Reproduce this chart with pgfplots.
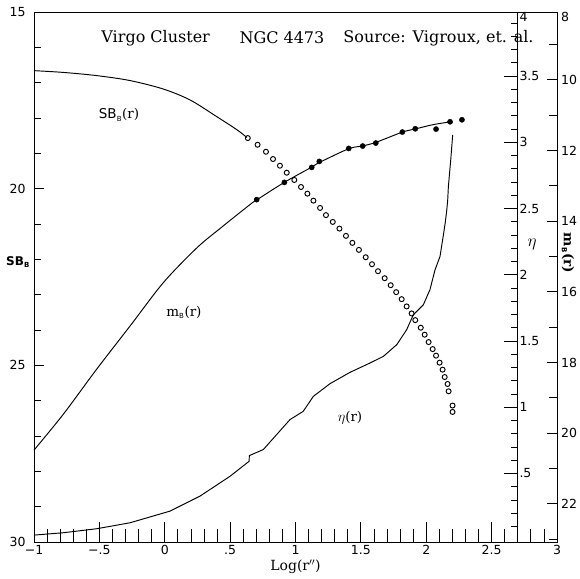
\documentclass[border=0pt]{standalone}
\usepackage{fontspec}
\setmainfont{DejaVu Serif}
\newfontfamily\ticksf{DejaVu Sans}
\usepackage{pgfplots}
\pgfplotsset{compat=1.18}

\pgfplotsset{
  panel/.style={
    at={(0,0)}, anchor=south west, scale only axis, height=530pt,
    clip=false,
    /pgf/number format/assume math mode=true,
    tick label style={font=\ticksf\fontsize{12.5}{12.5}\selectfont},
    axis line style={line width=0.9pt},
    every tick/.style={black, line width=0.8pt},
    tick align=inside,
  },
  curve/.style={black, line width=0.95pt},
}

\begin{document}
\begin{tikzpicture}[x=1pt,y=1pt]
\useasboundingbox (-34,-36) rectangle (546,542);

% surface brightness SB_B(r), log radius on the bottom axis
\begin{axis}[panel, width=523pt,
  xmin=-1, xmax=3, ymin=15, ymax=30, y dir=reverse,
  xtick={-1,-0.5,0,0.5,1,1.5,2,2.5,3},
  xticklabels={−1,−.5,0,.5,1,1.5,2,2.5,3},
  minor xtick={-0.9,-0.8,-0.7,-0.6,-0.4,-0.3,-0.2,-0.1,0.1,0.2,0.3,0.4,0.6,0.7,0.8,0.9,1.1,1.2,1.3,1.4,1.6,1.7,1.8,1.9,2.1,2.2,2.3,2.4,2.6,2.7,2.8,2.9},
  xtick pos=left, ytick=\empty,
  major tick length=20pt, minor tick length=13pt,
]
\addplot[curve, smooth] coordinates {
  (-1,16.66) (-0.775,16.71) (-0.521,16.80) (-0.266,16.94) (-0.011,17.18)
  (0.194,17.49) (0.397,17.96) (0.551,18.33) (0.628,18.55)
};
\addplot[only marks, mark=o, mark size=2.5pt, mark options={line width=0.95pt}] coordinates {
  (0.635,18.568) (0.710,18.757) (0.774,18.955) (0.828,19.161) (0.881,19.350)
  (0.933,19.548) (0.991,19.754) (1.042,19.952) (1.091,20.141) (1.137,20.339)
  (1.188,20.545) (1.233,20.749) (1.285,20.941) (1.336,21.130) (1.386,21.336)
  (1.435,21.534) (1.485,21.732) (1.537,21.941) (1.585,22.138) (1.631,22.336)
  (1.682,22.534) (1.728,22.732) (1.770,22.929) (1.812,23.127) (1.850,23.333)
  (1.888,23.531) (1.916,23.720) (1.958,23.935) (1.988,24.133) (2.018,24.342)
  (2.049,24.540) (2.075,24.726) (2.102,24.924) (2.125,25.122) (2.141,25.331)
  (2.163,25.528) (2.171,25.734) (2.201,26.138) (2.201,26.319)
};
% title
\node[anchor=west, font=\fontsize{16}{16}\selectfont] at (axis cs:-0.511,15.73) {Virgo Cluster};
\node[anchor=west, font=\fontsize{16}{16}\selectfont] at (axis cs:0.545,15.73) {NGC 4473};
\node[anchor=west, font=\fontsize{16}{16}\selectfont] at (axis cs:1.340,15.73) {Source: Vigroux, et. al.};
% curve labels
\node[font=\fontsize{13.5}{13.5}\selectfont] at (axis cs:-0.350,17.91) {{\ticksf SB}\textsubscript{\ticksf\fontsize{7}{7}\selectfont B}(r)};
\node[font=\fontsize{13.5}{13.5}\selectfont] at (axis cs:0.147,23.51) {m\textsubscript{\ticksf\fontsize{7}{7}\selectfont B}(r)};
\node[font=\fontsize{13.5}{13.5}\selectfont] at (axis cs:1.417,26.49) {$\eta$(r)};
% axis titles
\node[font=\fontsize{14}{14}\selectfont] at (axis cs:1.0,30) [yshift=-25pt] {Log(r$''$)};
\node[font=\ticksf\bfseries\fontsize{12}{12}\selectfont] at (axis cs:-1.122,22.07) {SB\textsubscript{\fontsize{7}{7}\selectfont B}};
\node[font=\fontsize{17}{17}\selectfont] at (axis cs:2.809,21.59) {$\eta$};
\node[font=\bfseries\fontsize{13.5}{13.5}\selectfont, rotate=-90] at (axis cs:3.084,21.82) {m\textsubscript{\ticksf\fontsize{7}{7}\selectfont B}(r)};
\end{axis}

% left SB_B scale
\begin{axis}[panel, width=523pt,
  xmin=-1, xmax=3, ymin=15, ymax=30, y dir=reverse,
  xtick=\empty, ytick={15,20,25,30},
  minor ytick={16,17,18,19,21,22,23,24,26,27,28,29},
  ytick pos=left,
  major tick length=10pt, minor tick length=7pt,
  yticklabel style={xshift=-5pt},
]
\end{axis}

% eta scale on the inner vertical line at log r = 2.7
\begin{axis}[panel, width=483.8pt,
  xmin=-1, xmax=2.7, ymin=-0.017, ymax=3.983,
  axis x line=none, axis y line*=right,
  ytick={0.5,1,1.5,2,2.5,3,3.5},
  yticklabels={.5,1,1.5,2,2.5,3,3.5},
  minor ytick={0.1,0.2,0.3,0.4,0.6,0.7,0.8,0.9,1.1,1.2,1.3,1.4,1.6,1.7,1.8,1.9,2.1,2.2,2.3,2.4,2.6,2.7,2.8,2.9,3.1,3.2,3.3,3.4,3.6,3.7,3.8,3.9},
  extra y ticks={3.944}, extra y tick labels={4},
  extra y tick style={tick style={draw=none}},
  major tick length=14pt, minor tick length=7pt,
  yticklabel style={anchor=west, inner xsep=1.5pt},
]
\addplot[curve] coordinates {
  (-1,0.035) (-0.775,0.053) (-0.521,0.083) (-0.266,0.128) (0.040,0.216)
  (0.269,0.329) (0.499,0.479) (0.645,0.592) (0.647,0.635) (0.754,0.681)
  (0.856,0.794) (0.958,0.907) (1.059,0.969) (1.136,1.082) (1.264,1.178)
  (1.416,1.263) (1.570,1.334) (1.672,1.384) (1.774,1.472) (1.850,1.585)
  (1.901,1.698) (1.978,1.774) (2.028,1.887) (2.067,2.037) (2.105,2.138)
  (2.131,2.300) (2.146,2.400) (2.157,2.490) (2.164,2.565) (2.169,2.665)
  (2.187,2.866) (2.202,3.055)
};
\end{axis}

% integrated magnitude m_B(r) on the outer right scale
\begin{axis}[panel, width=523pt,
  xmin=-1, xmax=3, ymin=8.08, ymax=23.08, y dir=reverse,
  axis x line=none, axis y line*=right,
  ytick={10,12,14,16,18,20,22},
  minor ytick={9,11,13,15,17,19,21,23},
  extra y ticks={8.22}, extra y tick labels={8},
  extra y tick style={tick style={draw=none}},
  major tick length=10pt, minor tick length=8pt,
  yticklabel style={anchor=west, inner xsep=4pt},
]
\addplot[curve, smooth] coordinates {
  (-1,20.48) (-0.775,19.46) (-0.521,18.19) (-0.266,16.97) (-0.011,15.74)
  (0.244,14.76) (0.422,14.21) (0.652,13.53) (0.703,13.40) (0.915,12.90)
  (1.124,12.47) (1.182,12.34) (1.407,11.95) (1.514,11.87) (1.614,11.77)
  (1.817,11.48) (1.916,11.39) (2.050,11.27) (2.182,11.19)
};
\addplot[only marks, mark=*, mark size=2.6pt] coordinates {
  (0.703,13.391) (0.915,12.902) (1.124,12.478) (1.182,12.309) (1.407,11.942)
  (1.514,11.874) (1.614,11.789) (1.817,11.478) (1.916,11.385) (2.075,11.394)
  (2.182,11.187) (2.273,11.131)
};
\end{axis}
\end{tikzpicture}
\end{document}
